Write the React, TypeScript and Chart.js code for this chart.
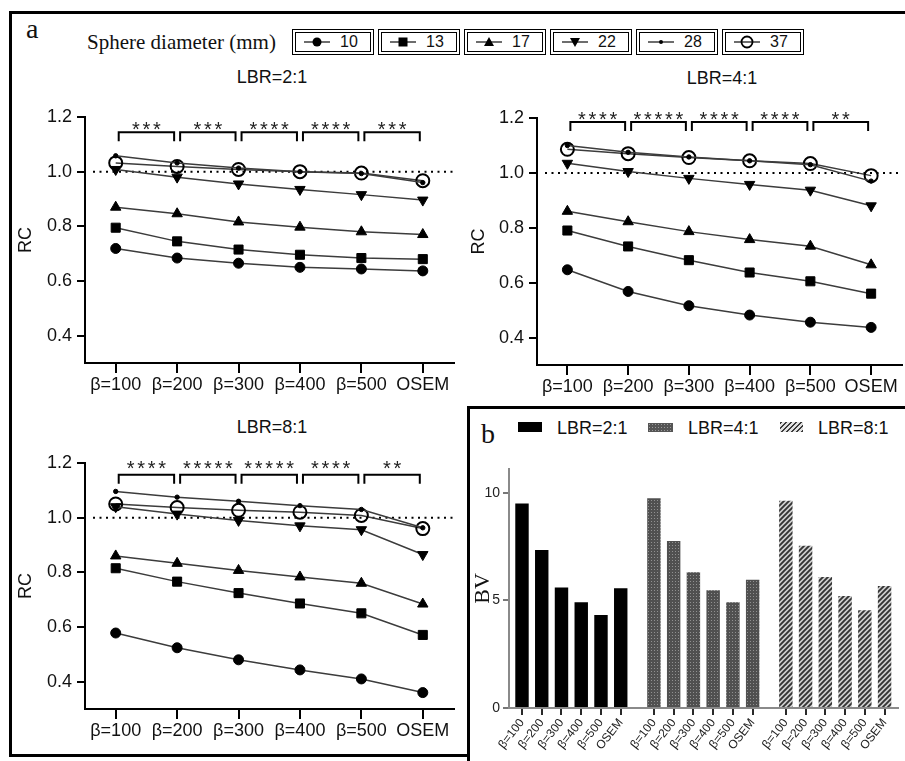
import React, { useEffect, useRef } from 'react';
import { Chart, registerables } from 'chart.js';

Chart.register(...registerables);

// ---------------- DATA ----------------
const categories = ['β=100', 'β=200', 'β=300', 'β=400', 'β=500', 'OSEM'];
const sphereDiameters = ['10', '13', '17', '22', '28', '37'];
const rcTicks = [0.4, 0.6, 0.8, 1.0, 1.2];

// LBR = 2:1
const rc21_d10 = [0.719, 0.684, 0.665, 0.650, 0.644, 0.637];
const rc21_d13 = [0.795, 0.745, 0.715, 0.696, 0.684, 0.680];
const rc21_d17 = [0.870, 0.846, 0.816, 0.797, 0.780, 0.770];
const rc21_d22 = [1.008, 0.980, 0.955, 0.935, 0.916, 0.896];
const rc21_d28 = [1.058, 1.032, 1.013, 1.000, 0.993, 0.960];
const rc21_d37 = [1.032, 1.019, 1.008, 1.000, 0.995, 0.967];
const stars21 = ['***', '***', '****', '****', '***'];

// LBR = 4:1
const rc41_d10 = [0.647, 0.568, 0.516, 0.482, 0.456, 0.437];
const rc41_d13 = [0.790, 0.732, 0.682, 0.637, 0.605, 0.560];
const rc41_d17 = [0.860, 0.822, 0.786, 0.757, 0.733, 0.665];
const rc41_d22 = [1.035, 1.005, 0.980, 0.958, 0.937, 0.880];
const rc41_d28 = [1.100, 1.075, 1.058, 1.044, 1.030, 0.970];
const rc41_d37 = [1.086, 1.070, 1.056, 1.044, 1.034, 0.990];
const stars41 = ['****', '*****', '****', '****', '**'];

// LBR = 8:1
const rc81_d10 = [0.578, 0.524, 0.480, 0.443, 0.410, 0.360];
const rc81_d13 = [0.815, 0.766, 0.724, 0.686, 0.650, 0.571];
const rc81_d17 = [0.860, 0.833, 0.807, 0.783, 0.760, 0.684];
const rc81_d22 = [1.040, 1.013, 0.990, 0.970, 0.956, 0.865];
const rc81_d28 = [1.096, 1.075, 1.060, 1.044, 1.030, 0.963];
const rc81_d37 = [1.050, 1.037, 1.027, 1.020, 1.008, 0.960];
const stars81 = ['****', '*****', '*****', '****', '**'];

// Panel b (BV)
const lbrNames = ['LBR=2:1', 'LBR=4:1', 'LBR=8:1'];
const bvTicks = [0, 5, 10];
const bvLBR2 = [9.50, 7.34, 5.60, 4.91, 4.32, 5.56];
const bvLBR4 = [9.74, 7.76, 6.30, 5.47, 4.91, 5.96];
const bvLBR8 = [9.63, 7.54, 6.08, 5.20, 4.54, 5.67];

// ---------------- STYLES ----------------
const SANS = '"Liberation Sans", Arial, sans-serif';
const SERIF = '"Liberation Serif", "Times New Roman", serif';
const LINE_COLOR = '#3c3c3c';

const markerStyles = [
  { pointStyle: 'circle', radius: 5, fill: '#000', rotation: 0, bw: 1 },
  { pointStyle: 'rect', radius: 6.4, fill: '#000', rotation: 0, bw: 1 },
  { pointStyle: 'triangle', radius: 6, fill: '#000', rotation: 0, bw: 1 },
  { pointStyle: 'triangle', radius: 6, fill: '#000', rotation: 180, bw: 1 },
  { pointStyle: 'circle', radius: 2.2, fill: '#000', rotation: 0, bw: 1 },
  { pointStyle: 'circle', radius: 6.5, fill: 'rgba(0,0,0,0)', rotation: 0, bw: 2 },
];

type Geom = { left: number; top: number; width: number; height: number };

function LinePanel(props: {
  geom: Geom;
  series: number[][];
  stars: string[];
  bracketValue: number;
  yAxisWidth: number;
  xAxisHeight: number;
  padTop: number;
  padRight: number;
  starOffset: number;
}) {
  const ref = useRef<HTMLCanvasElement>(null);
  useEffect(() => {
    const { series, stars, bracketValue, yAxisWidth, xAxisHeight, padTop, padRight, starOffset } = props;
    const annot = {
      id: 'annot',
      beforeDatasetsDraw(chart: any) {
        const ctx = chart.ctx;
        const area = chart.chartArea;
        const y = chart.scales.y.getPixelForValue(1.0);
        ctx.save();
        ctx.strokeStyle = '#000';
        ctx.lineWidth = 2;
        ctx.setLineDash([2, 4.5]);
        ctx.beginPath();
        ctx.moveTo(area.left + 8, y);
        ctx.lineTo(area.right, y);
        ctx.stroke();
        ctx.restore();
      },
      afterDraw(chart: any) {
        const ctx = chart.ctx;
        const xs = chart.scales.x;
        const ys = chart.scales.y;
        const yTop = ys.getPixelForValue(bracketValue);
        const fs = 20;
        ctx.save();
        ctx.strokeStyle = '#000';
        ctx.lineWidth = 2;
        ctx.fillStyle = '#222';
        ctx.font = `${fs}px ${SANS}`;
        ctx.textAlign = 'center';
        ctx.textBaseline = 'alphabetic';
        for (let i = 0; i < stars.length; i++) {
          const x1 = xs.getPixelForValue(i) + 3;
          const x2 = xs.getPixelForValue(i + 1) - 3;
          ctx.beginPath();
          ctx.moveTo(x1, yTop + 9);
          ctx.lineTo(x1, yTop);
          ctx.lineTo(x2, yTop);
          ctx.lineTo(x2, yTop + 9);
          ctx.stroke();
          const n = stars[i].length;
          const cx = (x1 + x2) / 2;
          for (let k = 0; k < n; k++) {
            const sx = cx + (k - (n - 1) / 2) * 10.5;
            ctx.fillText('*', sx, yTop - starOffset + fs * 0.58);
          }
        }
        ctx.restore();
      },
    };
    const datasets = series.map((vals, i) => {
      const m = markerStyles[i];
      return {
        label: sphereDiameters[i],
        data: vals,
        borderColor: LINE_COLOR,
        borderWidth: 1.5,
        tension: 0,
        pointStyle: m.pointStyle,
        pointRadius: m.radius,
        pointRotation: m.rotation,
        pointBackgroundColor: m.fill,
        pointBorderColor: '#000',
        pointBorderWidth: m.bw,
        fill: false,
      };
    });
    const chart = new Chart(ref.current as HTMLCanvasElement, {
      type: 'line',
      data: { labels: categories, datasets } as any,
      options: {
        animation: false,
        responsive: false,
        devicePixelRatio: 1,
        layout: { padding: { top: padTop, right: padRight, left: 0, bottom: 0 } },
        plugins: {
          legend: { display: false },
          tooltip: { enabled: false },
          title: { display: false },
        },
        scales: {
          x: {
            type: 'category',
            offset: true,
            grid: {
              display: true,
              drawOnChartArea: false,
              drawTicks: true,
              tickLength: 10,
              lineWidth: 2,
              color: '#000',
              offset: false,
            },
            border: { display: true, color: '#000', width: 2 },
            ticks: {
              autoSkip: false,
              maxRotation: 0,
              padding: 1,
              color: '#111',
              font: { family: SANS, size: 18 },
            },
            afterFit: (s: any) => {
              s.height = xAxisHeight;
            },
          },
          y: {
            type: 'linear',
            min: 0.3,
            max: 1.2,
            afterBuildTicks: (s: any) => {
              s.ticks = rcTicks.map((v) => ({ value: v }));
            },
            afterFit: (s: any) => {
              s.width = yAxisWidth;
            },
            grid: {
              display: true,
              drawOnChartArea: false,
              drawTicks: true,
              tickLength: 8,
              lineWidth: 2,
              color: '#000',
            },
            border: { display: true, color: '#000', width: 2 },
            ticks: {
              padding: 5,
              color: '#111',
              font: { family: SANS, size: 18 },
              callback: (v: any) => Number(v).toFixed(1),
            },
            title: {
              display: true,
              text: 'RC',
              color: '#111',
              font: { family: SANS, size: 18 },
              padding: { top: 3, bottom: 0 },
            },
          },
        },
      } as any,
      plugins: [annot as any],
    });
    return () => chart.destroy();
  }, []);
  const g = props.geom;
  return (
    <canvas
      ref={ref}
      width={g.width}
      height={g.height}
      style={{ position: 'absolute', left: g.left, top: g.top, width: g.width, height: g.height }}
    />
  );
}

function makeDotPattern(): any {
  const c = document.createElement('canvas');
  c.width = 3;
  c.height = 3;
  const g = c.getContext('2d');
  if (!g) return '#555';
  g.fillStyle = '#505050';
  g.fillRect(0, 0, 3, 3);
  g.fillStyle = '#909090';
  g.fillRect(1, 1, 1, 1);
  return g.createPattern(c, 'repeat') || '#555';
}

function makeHatchPattern(): any {
  const s = 5;
  const c = document.createElement('canvas');
  c.width = s;
  c.height = s;
  const g = c.getContext('2d');
  if (!g) return '#999';
  g.fillStyle = '#cfcfcf';
  g.fillRect(0, 0, s, s);
  g.strokeStyle = '#333';
  g.lineWidth = 1.9;
  g.beginPath();
  g.moveTo(-1, s + 1);
  g.lineTo(s + 1, -1);
  g.moveTo(-1, 1);
  g.lineTo(1, -1);
  g.moveTo(s - 1, s + 1);
  g.lineTo(s + 1, s - 1);
  g.stroke();
  return g.createPattern(c, 'repeat') || '#999';
}

function BarPanel(props: { geom: Geom }) {
  const ref = useRef<HTMLCanvasElement>(null);
  useEffect(() => {
    const GROUP_STEP = 6.68;
    const groups = [bvLBR2, bvLBR4, bvLBR8];
    const fills = ['#000', makeDotPattern(), makeHatchPattern()];
    const positions: number[] = [];
    groups.forEach((arr, g) => arr.forEach((_, i) => positions.push(g * GROUP_STEP + i)));
    const datasets = groups.map((arr, g) => ({
      label: lbrNames[g],
      data: arr.map((v, i) => ({ x: g * GROUP_STEP + i, y: v })),
      backgroundColor: fills[g],
      borderWidth: 0,
      grouped: false,
      barPercentage: 0.68,
      categoryPercentage: 1,
    }));
    const chart = new Chart(ref.current as HTMLCanvasElement, {
      type: 'bar',
      data: { datasets } as any,
      options: {
        animation: false,
        responsive: false,
        devicePixelRatio: 1,
        layout: { padding: { top: 24, right: 7, left: 0, bottom: 0 } },
        plugins: { legend: { display: false }, tooltip: { enabled: false } },
        scales: {
          x: {
            type: 'linear',
            offset: false,
            min: -0.658,
            max: 19.04,
            afterBuildTicks: (s: any) => {
              s.ticks = positions.map((v) => ({ value: v }));
            },
            afterFit: (s: any) => {
              s.height = 50;
            },
            grid: {
              display: true,
              offset: false,
              drawOnChartArea: false,
              drawTicks: true,
              tickLength: 7,
              lineWidth: 2,
              color: '#2a2a2a',
            },
            border: { display: true, color: '#8a8a8a', width: 2 },
            ticks: {
              autoSkip: false,
              minRotation: 52,
              maxRotation: 52,
              padding: 1,
              color: '#222',
              font: { family: SANS, size: 12 },
              callback: (_v: any, i: number) => categories[i % categories.length],
            },
          },
          y: {
            type: 'linear',
            min: 0,
            max: 11.1,
            afterBuildTicks: (s: any) => {
              s.ticks = bvTicks.map((v) => ({ value: v }));
            },
            afterFit: (s: any) => {
              s.width = 39;
            },
            grid: {
              display: true,
              drawOnChartArea: false,
              drawTicks: true,
              tickLength: 6,
              lineWidth: 2,
              color: '#777',
            },
            border: { display: true, color: '#8a8a8a', width: 2 },
            ticks: {
              padding: 3,
              color: '#222',
              font: { family: SANS, size: 14 },
            },
            title: {
              display: true,
              text: 'BV',
              color: '#111',
              font: { family: SERIF, size: 22 },
              padding: { top: 0, bottom: 0 },
            },
          },
        },
      } as any,
    });
    return () => chart.destroy();
  }, []);
  const g = props.geom;
  return (
    <canvas
      ref={ref}
      width={g.width}
      height={g.height}
      style={{ position: 'absolute', left: g.left, top: g.top, width: g.width, height: g.height }}
    />
  );
}

function LegendMarker({ idx }: { idx: number }) {
  const cx = 14;
  const cy = 8;
  let shape: any = null;
  if (idx === 0) shape = <circle cx={cx} cy={cy} r={4.5} fill="#000" />;
  if (idx === 1) shape = <rect x={cx - 4.5} y={cy - 4.5} width={9} height={9} fill="#000" />;
  if (idx === 2) shape = <polygon points={`${cx},${cy - 5} ${cx + 5},${cy + 4} ${cx - 5},${cy + 4}`} fill="#000" />;
  if (idx === 3) shape = <polygon points={`${cx},${cy + 5} ${cx + 5},${cy - 4} ${cx - 5},${cy - 4}`} fill="#000" />;
  if (idx === 4) shape = <circle cx={cx} cy={cy} r={2} fill="#000" />;
  if (idx === 5) shape = <circle cx={cx} cy={cy} r={5.5} fill="none" stroke="#000" strokeWidth={1.8} />;
  return (
    <svg width={28} height={16} style={{ display: 'block' }}>
      <line x1={1} y1={cy} x2={27} y2={cy} stroke={LINE_COLOR} strokeWidth={1.5} />
      {shape}
    </svg>
  );
}

const abs = (l: number, t: number, extra: any = {}) => ({ position: 'absolute' as const, left: l, top: t, ...extra });

export default function App() {
  const boxLefts = [292, 378, 464, 550, 636, 722];
  return (
    <div
      style={{
        position: 'absolute',
        left: 0,
        top: 0,
        width: 905,
        height: 761,
        overflow: 'hidden',
        background: '#fff',
        fontFamily: SANS,
        color: '#111',
      }}
    >
      {/* outer frame */}
      <div style={abs(9, 11, { width: 910, height: 746, border: '3px solid #000', boxSizing: 'border-box' })} />

      <div style={abs(26, 14.6, { fontFamily: SERIF, fontSize: 28, lineHeight: '28px' })}>a</div>
      <div style={abs(87, 32, { fontFamily: SERIF, fontSize: 21, lineHeight: '21px', whiteSpace: 'nowrap' })}>
        Sphere diameter (mm)
      </div>
      {sphereDiameters.map((d, i) => (
        <div
          key={d}
          style={abs(boxLefts[i], 29, {
            width: 82,
            height: 26,
            border: '4px double #000',
            boxSizing: 'border-box',
            display: 'flex',
            alignItems: 'center',
            paddingLeft: 7,
            gap: 9,
            fontSize: 16,
          })}
        >
          <LegendMarker idx={i} />
          <span>{d}</span>
        </div>
      ))}

      {/* panel titles */}
      <div style={abs(172, 67, { width: 200, textAlign: 'center', fontSize: 18, lineHeight: '20px' })}>LBR=2:1</div>
      <div style={abs(622, 68, { width: 200, textAlign: 'center', fontSize: 18, lineHeight: '20px' })}>LBR=4:1</div>
      <div style={abs(172, 417, { width: 200, textAlign: 'center', fontSize: 18, lineHeight: '20px' })}>LBR=8:1</div>

      <LinePanel
        geom={{ left: 12, top: 95, width: 450, height: 305 }}
        series={[rc21_d10, rc21_d13, rc21_d17, rc21_d22, rc21_d28, rc21_d37]}
        stars={stars21}
        bracketValue={1.144}
        yAxisWidth={73}
        xAxisHeight={37}
        padTop={22}
        padRight={4}
        starOffset={8}
      />
      <LinePanel
        geom={{ left: 465, top: 95, width: 445, height: 305 }}
        series={[rc41_d10, rc41_d13, rc41_d17, rc41_d22, rc41_d28, rc41_d37]}
        stars={stars41}
        bracketValue={1.185}
        yAxisWidth={72}
        xAxisHeight={35}
        padTop={23}
        padRight={2}
        starOffset={8}
      />
      <LinePanel
        geom={{ left: 12, top: 440, width: 450, height: 305 }}
        series={[rc81_d10, rc81_d13, rc81_d17, rc81_d22, rc81_d28, rc81_d37]}
        stars={stars81}
        bracketValue={1.157}
        yAxisWidth={73}
        xAxisHeight={36}
        padTop={23}
        padRight={4}
        starOffset={11}
      />

      {/* panel b box */}
      <div
        style={abs(467, 406, {
          width: 450,
          height: 360,
          borderTop: '3px solid #000',
          borderLeft: '3px solid #000',
          background: '#fff',
          boxSizing: 'border-box',
        })}
      />
      <div style={abs(481, 419.6, { fontFamily: SERIF, fontSize: 28, lineHeight: '28px' })}>b</div>
      <div style={abs(518, 422, { width: 24, height: 10, background: '#000' })} />
      <div style={abs(557, 418, { fontSize: 18, lineHeight: '20px' })}>{lbrNames[0]}</div>
      <div
        style={abs(648, 423, {
          width: 25,
          height: 9,
          backgroundColor: '#555',
          backgroundImage: 'radial-gradient(#999 30%, transparent 35%)',
          backgroundSize: '3px 3px',
        })}
      />
      <div style={abs(688, 418, { fontSize: 18, lineHeight: '20px' })}>{lbrNames[1]}</div>
      <div
        style={abs(780, 422, {
          width: 23,
          height: 10,
          backgroundImage: 'repeating-linear-gradient(-45deg, #3a3a3a 0px, #3a3a3a 1.6px, #e0e0e0 1.6px, #e0e0e0 3.6px)',
        })}
      />
      <div style={abs(818, 418, { fontSize: 18, lineHeight: '20px' })}>{lbrNames[2]}</div>

      <BarPanel geom={{ left: 470, top: 445, width: 435, height: 313 }} />
    </div>
  );
}
